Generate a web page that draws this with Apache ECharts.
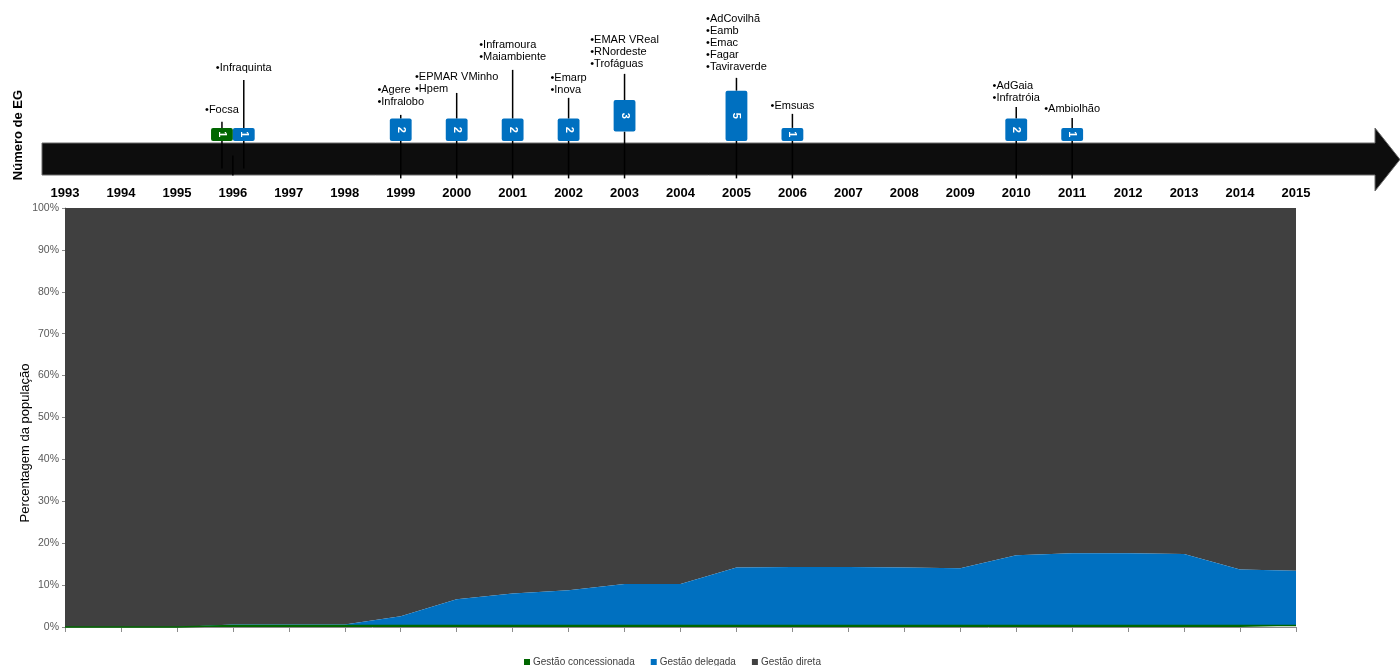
<!DOCTYPE html>
<html>
<head>
<meta charset="utf-8">
<script src="https://cdn.jsdelivr.net/npm/echarts@6/dist/echarts.min.js"></script>
<style>
  html, body { margin: 0; padding: 0; background: #ffffff; }
  #chart { width: 1400px; height: 666px; }
</style>
</head>
<body>
<div id="chart"></div>
<script>
// ---------------- DATA ----------------
const years = ['1993','1994','1995','1996','1997','1998','1999','2000','2001','2002','2003','2004',
               '2005','2006','2007','2008','2009','2010','2011','2012','2013','2014','2015'];

// Percentage of population by management model (stacked to 100%)
const gestaoConcessionada = [0, 0, 0, 0.35, 0.35, 0.35, 0.35, 0.35, 0.35, 0.35, 0.35, 0.35,
                             0.35, 0.35, 0.35, 0.35, 0.35, 0.35, 0.35, 0.35, 0.35, 0.35, 0.35];
const gestaoDelegada      = [0, 0, 0, 0.25, 0.25, 0.25, 2.2, 6.25, 7.65, 8.45, 9.9, 9.9,
                             13.85, 13.95, 13.95, 13.85, 13.65, 16.75, 17.25, 17.25, 17.05, 13.35, 13.05];
const gestaoDireta        = [100, 100, 100, 99.4, 99.4, 99.4, 97.45, 93.4, 92.0, 91.2, 89.75, 89.75,
                             85.8, 85.7, 85.7, 85.8, 86.0, 82.9, 82.4, 82.4, 82.6, 86.3, 86.6];

const seriesNames = ['Gestão concessionada', 'Gestão delegada', 'Gestão direta'];
const yTickLabels = ['0%','10%','20%','30%','40%','50%','60%','70%','80%','90%','100%'];

// Timeline of new management entities (EG)
const eventYears    = ['1996','1996','1999','2000','2001','2002','2003','2005','2006','2010','2011'];
const eventCounts   = [1, 1, 2, 2, 2, 2, 3, 5, 1, 2, 1];
const eventTypes    = ['Gestão concessionada','Gestão delegada','Gestão delegada','Gestão delegada',
                       'Gestão delegada','Gestão delegada','Gestão delegada','Gestão delegada',
                       'Gestão delegada','Gestão delegada','Gestão delegada'];
const eventEntities = [
  ['Focsa'],
  ['Infraquinta'],
  ['Agere','Infralobo'],
  ['EPMAR VMinho','Hpem'],
  ['Inframoura','Maiambiente'],
  ['Emarp','Inova'],
  ['EMAR VReal','RNordeste','Trofáguas'],
  ['AdCovilhã','Eamb','Emac','Fagar','Taviraverde'],
  ['Emsuas'],
  ['AdGaia','Infratróia'],
  ['Ambiolhão']
];

// ---------------- LAYOUT (annotation placement, in count-axis units) ----------------
const stemTopLevel  = [1.65, 6.16, 2.40, 4.76, 7.24, 4.23, 6.81, 6.38, 2.51, 3.26, 2.07];
const labelLevel    = [2.94, 7.45, 3.80, 5.19, 8.63, 5.09, 7.88, 7.56, 3.37, 4.23, 3.04];
const boxLift       = [0, 0, 0, 0, 0, 0, 1, 0, 0, 0, 0];
const boxBase = -0.4;

const colors = {
  'Gestão concessionada': '#006600',
  'Gestão delegada': '#0070C0',
  'Gestão direta': '#404040'
};

const labelFont = '11px "Liberation Sans", Arial, sans-serif';
const measureCtx = document.createElement('canvas').getContext('2d');
measureCtx.font = labelFont;
function maxLineWidth(lines) {
  let m = 0;
  lines.forEach(l => { m = Math.max(m, measureCtx.measureText(l).width); });
  return m;
}

// siblings sharing the same year (for side-by-side boxes)
const yearGroups = {};
eventYears.forEach((y, i) => { (yearGroups[y] = yearGroups[y] || []).push(i); });

const timelineData = eventYears.map((y, i) => [y, eventCounts[i], i]);

const chart = echarts.init(document.getElementById('chart'), null, { renderer: 'canvas' });

function renderEvent(params, api) {
  const i = api.value(2);
  const year = eventYears[i];
  const count = eventCounts[i];
  const group = yearGroups[year];
  const pos = group.indexOf(i);
  const n = group.length;
  const band = api.size([1, 0])[0];
  const w = band * 0.39;
  const cx0 = api.coord([year, 0])[0];
  const cx = cx0 + (pos - (n - 1) / 2) * w;
  const lift = boxLift[i];
  const yTop = api.coord([year, count + lift])[1];
  const yBot = api.coord([year, boxBase + lift])[1];
  const yStem = api.coord([year, stemTopLevel[i]])[1];
  const yAxisBottom = api.coord([year, -4])[1];
  const yLabel = api.coord([year, labelLevel[i]])[1];
  const color = colors[eventTypes[i]];
  const lines = eventEntities[i].map(s => '•' + s);
  const lw = maxLineWidth(lines);
  const children = [];
  children.push({ type: 'line', shape: { x1: cx, y1: yStem, x2: cx, y2: yTop },
    style: { stroke: '#000', lineWidth: 1.5 } });
  const lowerEnd = n > 1 ? yAxisBottom - 6 : yAxisBottom + 4;
  children.push({ type: 'line', shape: { x1: cx, y1: yBot, x2: cx, y2: lowerEnd },
    style: { stroke: '#000', lineWidth: 1.5 } });
  if (n > 1 && pos === 0) {
    children.push({ type: 'line', shape: { x1: cx0, y1: yAxisBottom - 19, x2: cx0, y2: yAxisBottom + 1 },
      style: { stroke: '#000', lineWidth: 1.5 } });
  }
  children.push({ type: 'rect', shape: { x: cx - w / 2, y: yTop, width: w, height: yBot - yTop, r: 2 },
    style: { fill: color } });
  children.push({ type: 'text', x: cx, y: (yTop + yBot) / 2, rotation: -Math.PI / 2,
    style: { text: String(count), fill: '#ffffff', font: 'bold 11px "Liberation Sans", Arial, sans-serif',
      align: 'center', verticalAlign: 'middle', textAlign: 'center', textVerticalAlign: 'middle' } });
  children.push({ type: 'text', x: cx - lw / 2, y: yLabel + 6,
    style: { text: lines.join('\n'), fill: '#000', font: labelFont, lineHeight: 12,
      align: 'left', verticalAlign: 'bottom', textAlign: 'left', textVerticalAlign: 'bottom' } });
  return { type: 'group', children: children };
}

const option = {
  animation: false,
  backgroundColor: '#ffffff',
  textStyle: { fontFamily: '"Liberation Sans", Arial, sans-serif' },
  grid: [
    { left: 65, right: 104, top: 208, bottom: 39, containLabel: false },
    { left: 65, right: 104, top: 7, height: 167.4, containLabel: false }
  ],
  legend: {
    data: seriesNames,
    left: 519, top: 652,
    itemWidth: 6, itemHeight: 6, itemGap: 16,
    icon: 'rect',
    textStyle: { fontSize: 10, color: '#404040', padding: [0, 0, 0, -2] }
  },
  xAxis: [
    {
      type: 'category', gridIndex: 0, data: years, boundaryGap: false,
      axisLine: { show: true, lineStyle: { color: '#8c8c8c', width: 1 } },
      axisTick: { show: true, length: 5, lineStyle: { color: '#8c8c8c' } },
      axisLabel: { show: false },
      splitLine: { show: false }
    },
    {
      type: 'category', gridIndex: 1, data: years, boundaryGap: false,
      axisLine: { show: false }, axisTick: { show: false },
      axisLabel: { show: true, fontSize: 13, fontWeight: 'bold', color: '#000', margin: 13 },
      splitLine: { show: false }
    }
  ],
  yAxis: [
    {
      type: 'value', gridIndex: 0, min: 0, max: 100, interval: 10,
      axisLine: { show: true, lineStyle: { color: '#8c8c8c' } },
      axisTick: { show: true, length: 3, lineStyle: { color: '#8c8c8c' } },
      axisLabel: { fontSize: 10.5, color: '#595959', margin: 6,
        formatter: (v) => yTickLabels[Math.round(v / 10)] },
      splitLine: { show: false }
    },
    {
      type: 'value', gridIndex: 1, min: -4, max: 14,
      show: false, splitLine: { show: false }
    }
  ],
  graphic: [
    {
      type: 'polygon', z: 1,
      shape: { points: [[42, 143], [1375, 143], [1375, 128], [1400, 159.5], [1375, 191], [1375, 175], [42, 175]] },
      style: { fill: '#0d0d0d', stroke: '#6b6b6b', lineWidth: 1 }
    },
    {
      type: 'text', x: 18, y: 135, rotation: Math.PI / 2,
      style: { text: 'Número de EG', fill: '#000', font: 'bold 13px "Liberation Sans", Arial, sans-serif',
        align: 'center', verticalAlign: 'middle', textAlign: 'center', textVerticalAlign: 'middle' }
    },
    {
      type: 'text', x: 25, y: 443, rotation: Math.PI / 2,
      style: { text: 'Percentagem da população', fill: '#000', font: '13px "Liberation Sans", Arial, sans-serif',
        align: 'center', verticalAlign: 'middle', textAlign: 'center', textVerticalAlign: 'middle' }
    }
  ],
  series: [
    {
      name: seriesNames[0], type: 'line', stack: 'pop', xAxisIndex: 0, yAxisIndex: 0, z: 4, clip: false,
      data: gestaoConcessionada, symbol: 'none', itemStyle: { color: colors[seriesNames[0]] },
      lineStyle: { width: 1.5, color: colors[seriesNames[0]] },
      areaStyle: { color: colors[seriesNames[0]], opacity: 1 }
    },
    {
      name: seriesNames[1], type: 'line', stack: 'pop', xAxisIndex: 0, yAxisIndex: 0, z: 3, clip: false,
      data: gestaoDelegada, symbol: 'none', itemStyle: { color: colors[seriesNames[1]] },
      lineStyle: { width: 0 }, areaStyle: { color: colors[seriesNames[1]], opacity: 1 }
    },
    {
      name: seriesNames[2], type: 'line', stack: 'pop', xAxisIndex: 0, yAxisIndex: 0, z: 2, clip: false,
      data: gestaoDireta, symbol: 'none', itemStyle: { color: colors[seriesNames[2]] },
      lineStyle: { width: 0 }, areaStyle: { color: colors[seriesNames[2]], opacity: 1 }
    },
    {
      name: 'Número de EG', type: 'custom', xAxisIndex: 1, yAxisIndex: 1, z: 5,
      data: timelineData, renderItem: renderEvent, clip: false
    }
  ]
};

chart.setOption(option);
</script>
</body>
</html>
